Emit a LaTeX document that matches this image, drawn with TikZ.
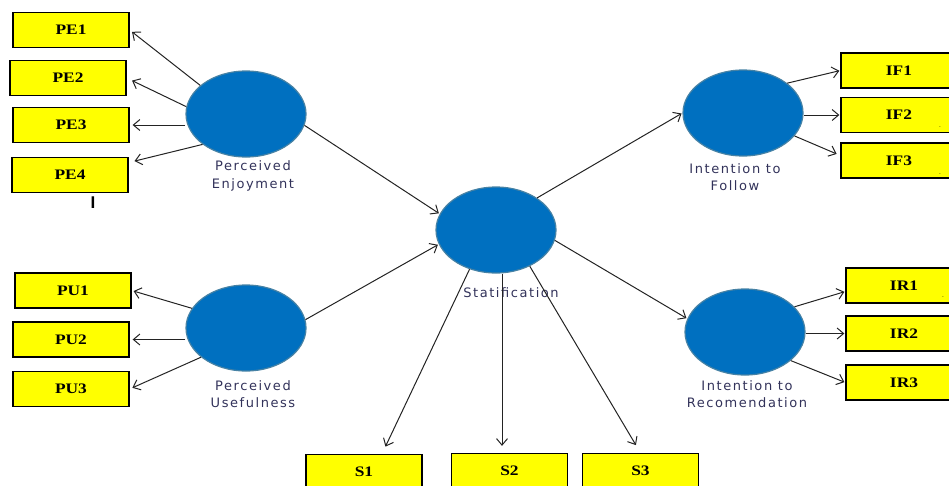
\documentclass[tikz,border=0pt]{standalone}
\usepackage{fontspec}
\usetikzlibrary{arrows.meta,shapes.geometric}
\newfontfamily\boxfont[FakeStretch=1.2]{Liberation Serif}
\newfontfamily\lblfont[LetterSpace=12]{DejaVu Sans}
\newfontfamily\markfont{Liberation Sans}
\definecolor{boxyellow}{RGB}{255,255,0}
\definecolor{latent}{RGB}{0,112,192}
\definecolor{latentedge}{RGB}{70,130,165}
\definecolor{lbl}{RGB}{50,50,90}
\definecolor{arrowc}{RGB}{35,35,35}
\tikzset{
  ind/.style={draw=black, line width=1.3pt, fill=boxyellow, minimum width=116pt,
    minimum height=35pt, inner sep=0pt, font=\boxfont\bfseries\fontsize{14.5}{14.5}\selectfont},
  lat/.style={ellipse, draw=latentedge, line width=1.2pt, fill=latent,
    minimum width=120pt, minimum height=86pt, inner sep=0pt},
  lab/.style={font=\lblfont\fontsize{13}{17.5}\selectfont, text=lbl, align=center},
  arr/.style={draw=arrowc, line width=1pt, -{Straight Barb[length=6.5pt,width=11pt]}},
  tiny/.style={font=\fontsize{8}{8}\selectfont, inner sep=0pt}
}
\begin{document}
\begin{tikzpicture}[x=1pt,y=-1pt]
\useasboundingbox (0,0) rectangle (949,485);
\clip (0,0) rectangle (949,485);
% indicator boxes
\node[ind] (pe1) at (71,30) {PE1};
\node[ind] (pe2) at (68,78) {PE2};
\node[ind] (pe3) at (71,125) {PE3};
\node[ind] (pe4) at (70,175) {PE4};
\node[ind] (pu1) at (73,290.5) {PU1};
\node[ind] (pu2) at (71,339.5) {PU2};
\node[ind] (pu3) at (71,389) {PU3};
\node[ind] (s1) at (364,472) {S1};
\node[ind] (s2) at (509.5,471) {S2};
\node[ind] (s3) at (640.5,471) {S3};
\node[ind] (if1) at (899,70.5) {IF1};
\node[ind] (if2) at (899,115) {IF2};
\node[ind] (if3) at (899,160.5) {IF3};
\node[ind] (ir1) at (904,285.5) {IR1};
\node[ind] (ir2) at (904,333.5) {IR2};
\node[ind] (ir3) at (904,382.5) {IR3};
% latent variables
\node[lat] (pe) at (246,114) {};
\node[lat] (pu) at (246,328) {};
\node[lat] (st) at (496,230) {};
\node[lat] (ifl) at (743,113) {};
\node[lat] (irl) at (745,332) {};
% labels
\node[lab] (lpe) at (253,176) {Perceived\\Enjoyment};
\node[lab] (lpu) at (253,394) {Perceived\\Usefulness};
\node[lab] (lst) at (511,293) {Statification};
\node[lab] (lif) at (735,177) {Intention to\\Follow};
\node[lab] (lir) at (747,394) {Intention to\\Recomendation};
% stray marks
\node[font=\markfont\bfseries\fontsize{17}{17}\selectfont, inner sep=0pt] (mk) at (93,203) {I};
\node[tiny] (d1) at (940,127) {.};
\node[tiny] (d2) at (940,174) {.};
\node[tiny] (d3) at (943,297) {.};
% PE loadings
\draw[arr, shorten >=3pt] (pe.148) -- (pe1.east);
\draw[arr, shorten >=6pt] (pe.173) -- (pe2.east);
\draw[arr, shorten >=3pt] (pe.west |- pe3) -- (pe3.east);
\draw[arr, shorten >=6pt] (pe.215) -- (pe4.12);
% PU loadings
\draw[arr, shorten >=2pt] (pu.160) -- (pu1.east);
\draw[arr, shorten >=3pt] (pu.west |- pu2) -- (pu2.east);
\draw[arr, shorten >=3pt] (pu.213) -- (pu3.east);
% structural paths
\draw[arr, shorten >=1pt] (pe.349) -- (st.164);
\draw[arr, shorten >=1pt] (pu.8) -- (st.194);
\draw[arr, shorten >=1pt] (st.38) -- (ifl.west);
\draw[arr, shorten >=1pt] (st.350) -- (irl.167);
% S loadings
\draw[arr, shorten >=8pt] (st.236) -- ([xshift=18pt]s1.north);
\draw[arr, shorten >=7pt] ([xshift=6pt]st.south) -- ([xshift=-7.5pt]s2.north);
\draw[arr, shorten >=9pt] (st.313) -- (s3.north);
% IF loadings
\draw[arr, shorten >=1pt] (ifl.34) -- (if1.west);
\draw[arr, shorten >=1pt] (ifl.east |- if2) -- (if2.west);
\draw[arr, shorten >=4pt] (ifl.336) -- ([yshift=5pt]if3.west);
% IR loadings
\draw[arr, shorten >=1pt] (irl.27) -- ([yshift=-6pt]ir1.west);
\draw[arr, shorten >=1pt] (irl.east |- ir2) -- (ir2.west);
\draw[arr, shorten >=1pt] (irl.328) -- (ir3.west);
\end{tikzpicture}
\end{document}
